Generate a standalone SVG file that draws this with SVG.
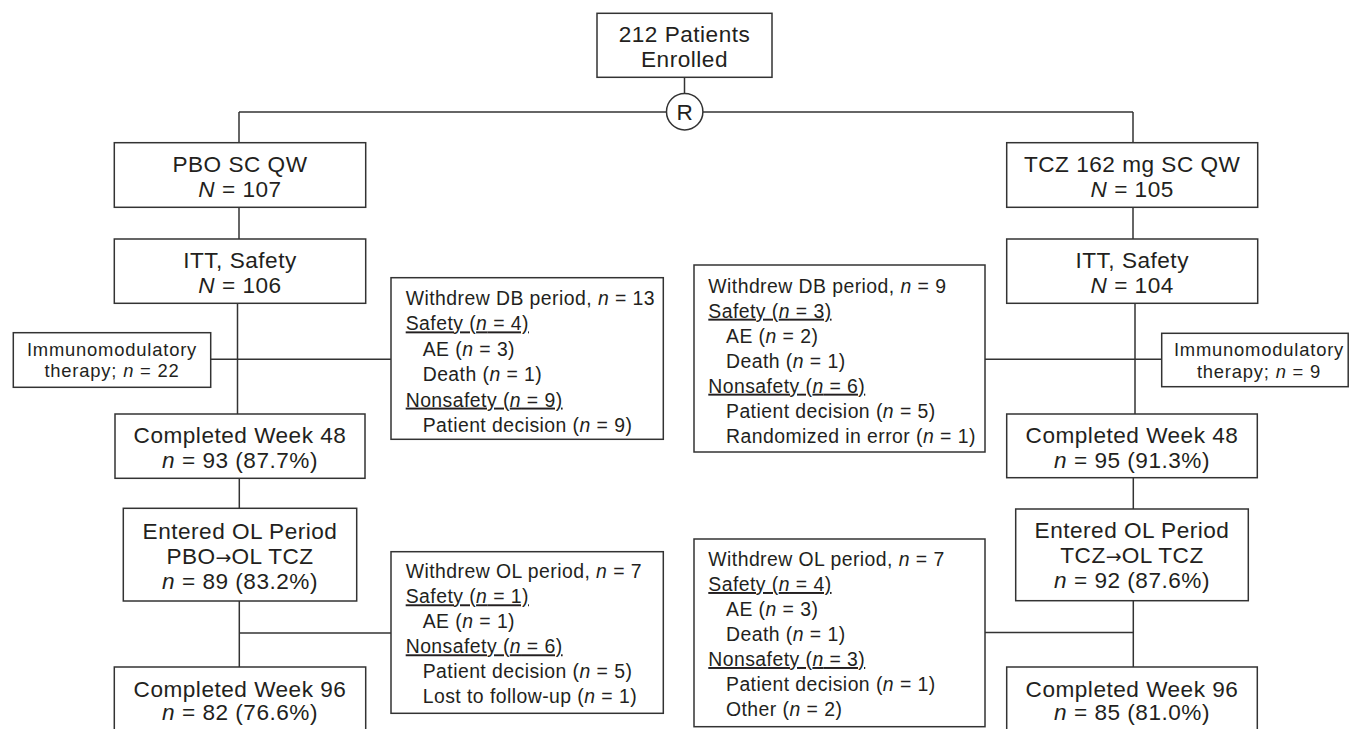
<svg xmlns="http://www.w3.org/2000/svg" width="1350" height="729" viewBox="0 0 1350 729">
<style>
  .box { fill: #ffffff; stroke: #333333; stroke-width: 1.5; }
  .ln { fill: none; stroke: #333333; stroke-width: 1.5; }
  .big { font-family: "Liberation Sans", Arial, sans-serif; font-size: 22.6px; letter-spacing: 0.5px; fill: #231f20; text-anchor: middle; }
  .sm { font-family: "Liberation Sans", Arial, sans-serif; font-size: 19.4px; letter-spacing: 0.45px; fill: #231f20; }
  .smc { font-family: "Liberation Sans", Arial, sans-serif; font-size: 18.4px; letter-spacing: 0.8px; fill: #231f20; text-anchor: middle; }
  .i { font-style: italic; }
  .u { text-decoration: underline; }
  .arr { font-family: "DejaVu Sans", sans-serif; font-size: 19px; letter-spacing: 0; }
</style>

<g id="connectors">
  <line class="ln" x1="684.5" y1="77" x2="684.5" y2="93.5"/>
  <line class="ln" x1="239" y1="112" x2="666.5" y2="112"/>
  <line class="ln" x1="703" y1="112" x2="1133" y2="112"/>
  <line class="ln" x1="239" y1="112" x2="239" y2="143"/>
  <line class="ln" x1="1133" y1="112" x2="1133" y2="143"/>
  <line class="ln" x1="239" y1="207" x2="239" y2="239"/>
  <line class="ln" x1="1133" y1="207" x2="1133" y2="239"/>
  <line class="ln" x1="237.5" y1="303" x2="237.5" y2="414"/>
  <line class="ln" x1="211" y1="359.3" x2="391" y2="359.3"/>
  <line class="ln" x1="1135" y1="303" x2="1135" y2="414"/>
  <line class="ln" x1="985" y1="359.3" x2="1162" y2="359.3"/>
  <line class="ln" x1="239.3" y1="478" x2="239.3" y2="508.3"/>
  <line class="ln" x1="239.3" y1="601" x2="239.3" y2="667"/>
  <line class="ln" x1="239.3" y1="633" x2="391" y2="633"/>
  <line class="ln" x1="1133.3" y1="478" x2="1133.3" y2="509"/>
  <line class="ln" x1="1133.3" y1="601" x2="1133.3" y2="667"/>
  <line class="ln" x1="985" y1="632.5" x2="1133.3" y2="632.5"/>
</g>

<g id="enrolled">
  <rect class="box" x="597" y="13.3" width="175" height="64"/>
  <text class="big" x="684.5" y="41.7">212 Patients</text>
  <text class="big" x="684.5" y="66.7">Enrolled</text>
</g>

<g id="randomization">
  <circle cx="684.7" cy="111.7" r="18.2" fill="#ffffff" stroke="#333333" stroke-width="1.5"/>
  <text class="big" x="684.7" y="119.8" style="letter-spacing:0">R</text>
</g>

<g id="pbo">
  <rect class="box" x="114.3" y="142.7" width="251.4" height="64.6"/>
  <text class="big" x="240" y="171.7">PBO SC QW</text>
  <text class="big" x="240" y="196.7"><tspan class="i">N</tspan> = 107</text>
</g>

<g id="tcz">
  <rect class="box" x="1006.7" y="142.7" width="251" height="64.6"/>
  <text class="big" x="1132.2" y="171.7">TCZ 162 mg SC QW</text>
  <text class="big" x="1132.2" y="196.7"><tspan class="i">N</tspan> = 105</text>
</g>

<g id="itt-pbo">
  <rect class="box" x="114.3" y="239" width="251.4" height="64.3"/>
  <text class="big" x="240" y="267.7">ITT, Safety</text>
  <text class="big" x="240" y="292.7"><tspan class="i">N</tspan> = 106</text>
</g>

<g id="itt-tcz">
  <rect class="box" x="1006.7" y="239" width="251" height="64.3"/>
  <text class="big" x="1132.2" y="267.7">ITT, Safety</text>
  <text class="big" x="1132.2" y="292.7"><tspan class="i">N</tspan> = 104</text>
</g>

<g id="immuno-pbo">
  <rect class="box" x="13.3" y="332.7" width="197.4" height="54.6"/>
  <text class="smc" x="112" y="355.5">Immunomodulatory</text>
  <text class="smc" x="112" y="377">therapy; <tspan class="i">n</tspan> = 22</text>
</g>

<g id="immuno-tcz">
  <rect class="box" x="1161.7" y="333.3" width="186.5" height="53.4"/>
  <text class="smc" x="1259" y="356">Immunomodulatory</text>
  <text class="smc" x="1259" y="377.5">therapy; <tspan class="i">n</tspan> = 9</text>
</g>

<g id="withdrew-db-pbo">
  <rect class="box" x="391" y="277.7" width="272.3" height="161.6"/>
  <text class="sm" x="405.7" y="305">Withdrew DB period, <tspan class="i">n</tspan> = 13</text>
  <text class="sm u" x="405.7" y="330.4">Safety (<tspan class="i">n</tspan> = 4)</text>
  <text class="sm" x="422.7" y="355.8">AE (<tspan class="i">n</tspan> = 3)</text>
  <text class="sm" x="422.7" y="381.2">Death (<tspan class="i">n</tspan> = 1)</text>
  <text class="sm u" x="405.7" y="406.6">Nonsafety (<tspan class="i">n</tspan> = 9)</text>
  <text class="sm" x="422.7" y="432">Patient decision (<tspan class="i">n</tspan> = 9)</text>
</g>

<g id="withdrew-db-tcz">
  <rect class="box" x="694" y="265" width="291" height="187"/>
  <text class="sm" x="708.3" y="292.7">Withdrew DB period, <tspan class="i">n</tspan> = 9</text>
  <text class="sm u" x="708.3" y="317.7">Safety (<tspan class="i">n</tspan> = 3)</text>
  <text class="sm" x="726" y="342.7">AE (<tspan class="i">n</tspan> = 2)</text>
  <text class="sm" x="726" y="367.7">Death (<tspan class="i">n</tspan> = 1)</text>
  <text class="sm u" x="708.3" y="392.7">Nonsafety (<tspan class="i">n</tspan> = 6)</text>
  <text class="sm" x="726" y="417.7">Patient decision (<tspan class="i">n</tspan> = 5)</text>
  <text class="sm" x="726" y="442.7">Randomized in error (<tspan class="i">n</tspan> = 1)</text>
</g>

<g id="week48-pbo">
  <rect class="box" x="115" y="414" width="250" height="64.3"/>
  <text class="big" x="240" y="442.7">Completed Week 48</text>
  <text class="big" x="240" y="468.3"><tspan class="i">n</tspan> = 93 (87.7%)</text>
</g>

<g id="week48-tcz">
  <rect class="box" x="1006.7" y="414" width="250.6" height="63.7"/>
  <text class="big" x="1132" y="442.7">Completed Week 48</text>
  <text class="big" x="1132" y="468.3"><tspan class="i">n</tspan> = 95 (91.3%)</text>
</g>

<g id="ol-pbo">
  <rect class="box" x="123.3" y="508.3" width="233.4" height="92.7"/>
  <text class="big" x="240" y="538.7">Entered OL Period</text>
  <text class="big" x="240" y="564">PBO<tspan class="arr">→</tspan>OL TCZ</text>
  <text class="big" x="240" y="589.3"><tspan class="i">n</tspan> = 89 (83.2%)</text>
</g>

<g id="ol-tcz">
  <rect class="box" x="1015.7" y="509" width="232.6" height="91.7"/>
  <text class="big" x="1132" y="538.3">Entered OL Period</text>
  <text class="big" x="1132" y="563.3">TCZ<tspan class="arr">→</tspan>OL TCZ</text>
  <text class="big" x="1132" y="588.3"><tspan class="i">n</tspan> = 92 (87.6%)</text>
</g>

<g id="withdrew-ol-pbo">
  <rect class="box" x="391" y="551.7" width="272.3" height="161.6"/>
  <text class="sm" x="405.7" y="578.3">Withdrew OL period, <tspan class="i">n</tspan> = 7</text>
  <text class="sm u" x="405.7" y="603.3">Safety (<tspan class="i">n</tspan> = 1)</text>
  <text class="sm" x="422.7" y="628.3">AE (<tspan class="i">n</tspan> = 1)</text>
  <text class="sm u" x="405.7" y="653.3">Nonsafety (<tspan class="i">n</tspan> = 6)</text>
  <text class="sm" x="422.7" y="678.3">Patient decision (<tspan class="i">n</tspan> = 5)</text>
  <text class="sm" x="422.7" y="703.3">Lost to follow-up (<tspan class="i">n</tspan> = 1)</text>
</g>

<g id="withdrew-ol-tcz">
  <rect class="box" x="694" y="539" width="291" height="187.7"/>
  <text class="sm" x="708.3" y="566">Withdrew OL period, <tspan class="i">n</tspan> = 7</text>
  <text class="sm u" x="708.3" y="591">Safety (<tspan class="i">n</tspan> = 4)</text>
  <text class="sm" x="726" y="616">AE (<tspan class="i">n</tspan> = 3)</text>
  <text class="sm" x="726" y="641">Death (<tspan class="i">n</tspan> = 1)</text>
  <text class="sm u" x="708.3" y="666">Nonsafety (<tspan class="i">n</tspan> = 3)</text>
  <text class="sm" x="726" y="691">Patient decision (<tspan class="i">n</tspan> = 1)</text>
  <text class="sm" x="726" y="716">Other (<tspan class="i">n</tspan> = 2)</text>
</g>

<g id="week96-pbo">
  <rect class="box" x="114.3" y="667" width="251.4" height="70"/>
  <text class="big" x="240" y="696.7">Completed Week 96</text>
  <text class="big" x="240" y="720.3"><tspan class="i">n</tspan> = 82 (76.6%)</text>
</g>

<g id="week96-tcz">
  <rect class="box" x="1006.7" y="667" width="250.6" height="70"/>
  <text class="big" x="1132" y="696.7">Completed Week 96</text>
  <text class="big" x="1132" y="720.3"><tspan class="i">n</tspan> = 85 (81.0%)</text>
</g>
</svg>
